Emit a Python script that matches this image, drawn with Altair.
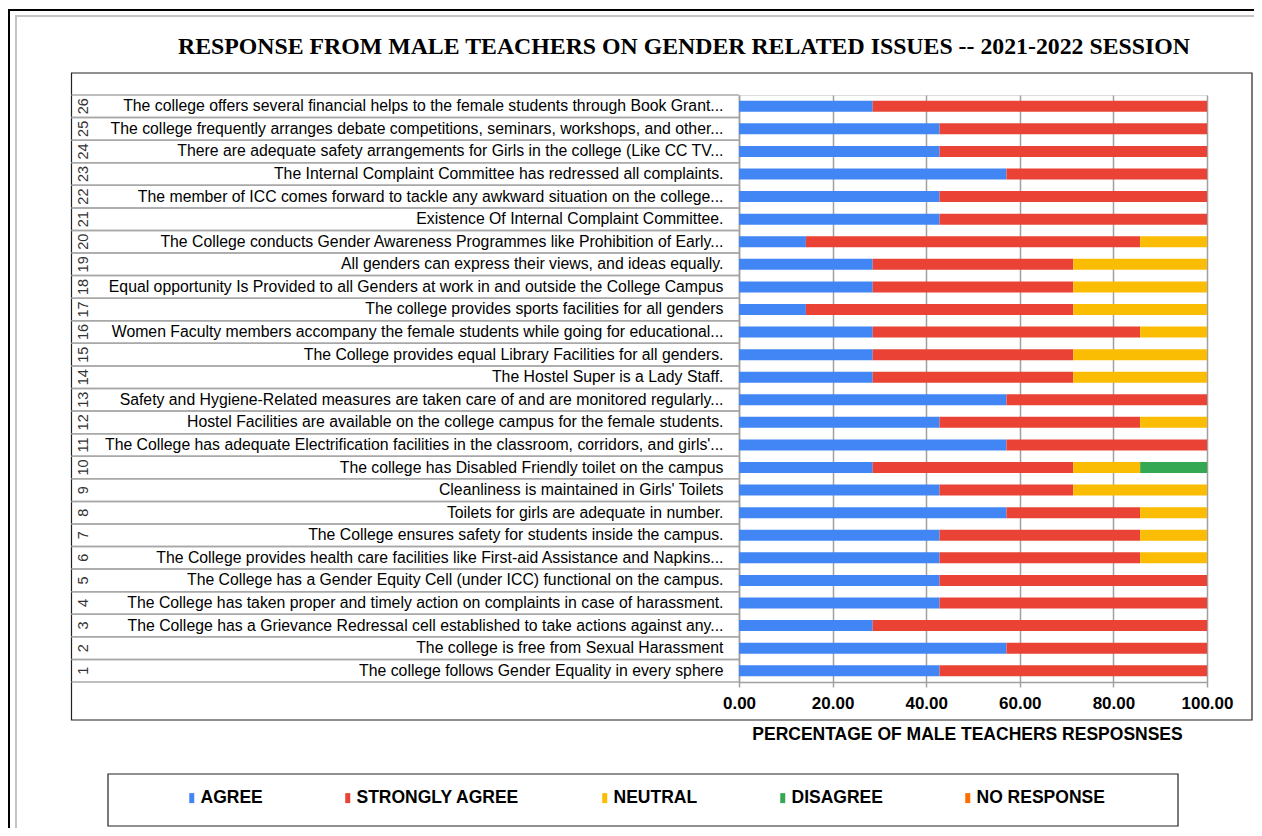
import altair as alt
import pandas as pd

item_no = list(range(1, 27))
statements = [
    "The college follows Gender Equality in every sphere",
    "The college is free from Sexual Harassment",
    "The College has a Grievance Redressal cell established to take actions against any...",
    "The College has taken proper and timely action on complaints in case of harassment.",
    "The College has a Gender Equity Cell (under ICC) functional on the campus.",
    "The College provides health care facilities like First-aid Assistance and Napkins...",
    "The College ensures safety for students inside the campus.",
    "Toilets for girls are adequate in number.",
    "Cleanliness is maintained in Girls' Toilets",
    "The college has Disabled Friendly toilet on the campus",
    "The College has adequate Electrification facilities in the classroom, corridors, and girls'...",
    "Hostel Facilities are available on the college campus for the female students.",
    "Safety and Hygiene-Related measures are taken care of and are monitored regularly...",
    "The Hostel Super is a Lady Staff.",
    "The College provides equal Library Facilities for all genders.",
    "Women Faculty members accompany the female students while going for educational...",
    "The college provides sports facilities for all genders",
    "Equal opportunity Is Provided to all Genders at work in and outside the College Campus",
    "All genders can express their views, and ideas equally.",
    "The College conducts Gender Awareness Programmes like Prohibition of Early...",
    "Existence Of Internal Complaint Committee.",
    "The member of ICC comes forward to tackle any awkward situation on the college...",
    "The Internal Complaint Committee has redressed all complaints.",
    "There are adequate safety arrangements for Girls in the college (Like CC TV...",
    "The college frequently arranges debate competitions, seminars, workshops, and other...",
    "The college offers several financial helps to the female students through Book Grant...",
]
agree = [42.86, 57.14, 28.57, 42.86, 42.86, 42.86, 42.86, 57.14, 42.86, 28.57,
         57.14, 42.86, 57.14, 28.57, 28.57, 28.57, 14.29, 28.57, 28.57, 14.29,
         42.86, 42.86, 57.14, 42.86, 42.86, 28.57]
strongly_agree = [57.14, 42.86, 71.43, 57.14, 57.14, 42.86, 42.86, 28.57, 28.57, 42.86,
                  42.86, 42.86, 42.86, 42.86, 42.86, 57.14, 57.14, 42.86, 42.86, 71.43,
                  57.14, 57.14, 42.86, 57.14, 57.14, 71.43]
neutral = [0, 0, 0, 0, 0, 14.29, 14.29, 14.29, 28.57, 14.29,
           0, 14.29, 0, 28.57, 28.57, 14.29, 28.57, 28.57, 28.57, 14.29,
           0, 0, 0, 0, 0, 0]
disagree = [0, 0, 0, 0, 0, 0, 0, 0, 0, 14.29,
            0, 0, 0, 0, 0, 0, 0, 0, 0, 0,
            0, 0, 0, 0, 0, 0]
no_response = [0, 0, 0, 0, 0, 0, 0, 0, 0, 0,
               0, 0, 0, 0, 0, 0, 0, 0, 0, 0,
               0, 0, 0, 0, 0, 0]
responses = ["AGREE", "STRONGLY AGREE", "NEUTRAL", "DISAGREE", "NO RESPONSE"]
colors = ["#4285F4", "#EA4335", "#FBBC04", "#34A853", "#FF6D01"]
x_ticks = [0, 20, 40, 60, 80, 100]
title_text = "RESPONSE FROM MALE TEACHERS ON GENDER RELATED ISSUES -- 2021-2022 SESSION"
x_title = "PERCENTAGE OF MALE TEACHERS RESPOSNSES"

series = [agree, strongly_agree, neutral, disagree, no_response]
rows = []
for i, (n, s) in enumerate(zip(item_no, statements)):
    for k, (r, vals) in enumerate(zip(responses, series)):
        rows.append({"item": n, "statement": s, "response": r, "idx": k, "value": vals[i]})
long_df = pd.DataFrame(rows)
items_df = pd.DataFrame({"item": item_no, "statement": statements})
one = pd.DataFrame({"k": [0]})

order = statements[::-1]
FONT = "Liberation Sans"

yscale = alt.Scale(paddingInner=0, paddingOuter=0)

# decorative frames
outer = alt.Chart(one).mark_rect(fillOpacity=0, stroke="black", strokeWidth=2).encode(
    x=alt.value(-730), x2=alt.value(620), y=alt.value(-85), y2=alt.value(800))
inner_frame = alt.Chart(one).mark_rect(fillOpacity=0, stroke="#c4c4c4", strokeWidth=2).encode(
    x=alt.value(-723), x2=alt.value(610), y=alt.value(-79), y2=alt.value(800))
chart_box = alt.Chart(one).mark_rect(fillOpacity=0, stroke="#222222", strokeWidth=1.2).encode(
    x=alt.value(-667.5), x2=alt.value(513), y=alt.value(-22), y2=alt.value(625))
legend_box = alt.Chart(one).mark_rect(fillOpacity=0, stroke="#222222", strokeWidth=1.2).encode(
    x=alt.value(-631), x2=alt.value(439), y=alt.value(679), y2=alt.value(731))

title = alt.Chart(one).mark_text(
    text=title_text, font="Liberation Serif", fontSize=23.8, fontWeight="bold",
    align="center", baseline="middle", color="black"
).encode(x=alt.value(-55), y=alt.value(-48))

sep_top = alt.Chart(items_df).mark_rule(color="#a8a8a8", strokeWidth=1.5).encode(
    y=alt.Y("statement:N", sort=order, scale=yscale, bandPosition=0),
    x=alt.value(-667.5), x2=alt.value(0))
sep_bot = alt.Chart(items_df).mark_rule(color="#a8a8a8", strokeWidth=1.5).encode(
    y=alt.Y("statement:N", sort=order, scale=yscale, bandPosition=1),
    x=alt.value(-667.5), x2=alt.value(0))

numbers = alt.Chart(items_df).mark_text(
    angle=270, font=FONT, fontSize=14.5, color="#333333", align="center", baseline="middle"
).encode(
    y=alt.Y("statement:N", sort=order, scale=yscale),
    x=alt.value(-655),
    text="item:N")

bars = alt.Chart(long_df).mark_bar(size=11).encode(
    x=alt.X("value:Q", stack="zero",
            scale=alt.Scale(domain=[0, 100], nice=False),
            axis=alt.Axis(values=x_ticks, format=".2f", title=x_title,
                          labelFont=FONT, labelFontSize=17, labelFontWeight="bold",
                          labelColor="black", labelPadding=8, labelFlush=False,
                          tickColor="#a0a0a0", tickSize=5, tickWidth=1.5,
                          domainColor="#a0a0a0", domainWidth=1.5,
                          grid=True, gridColor="#a0a0a0", gridWidth=1.5,
                          titleFont=FONT, titleFontSize=17.5, titleFontWeight="bold",
                          titleColor="black", titlePadding=14, titleX=228,
                          titleAlign="center")),
    y=alt.Y("statement:N", sort=order, scale=yscale,
            axis=alt.Axis(title=None, labelFont=FONT, labelFontSize=15.8,
                          labelColor="black", labelLimit=720, labelPadding=16,
                          ticks=False, domainColor="#a0a0a0", domainWidth=1.5,
                          grid=False)),
    color=alt.Color("response:N",
                    scale=alt.Scale(domain=responses, range=colors),
                    legend=alt.Legend(title=None, orient="none", legendX=-556, legendY=694,
                                      direction="horizontal", columns=5, columnPadding=76,
                                      symbolType="M-0.5,-1H0.5V1H-0.5Z", symbolSize=100,
                                      symbolStrokeWidth=0, labelFont=FONT, labelFontSize=17.5,
                                      labelFontWeight="bold", labelColor="black",
                                      labelOffset=0, labelLimit=300)),
    order=alt.Order("idx:Q"),
)

chart = alt.layer(outer, inner_frame, chart_box, legend_box, title,
                  sep_top, sep_bot, numbers, bars).properties(
    width=468, height=587,
    autosize=alt.AutoSizeParams(type="none"),
    padding={"left": 731, "top": 87, "right": 47, "bottom": 146},
).configure_view(stroke=None).configure(background="white")

chart.save("out.html", embed_options={"renderer": "svg", "actions": False})
